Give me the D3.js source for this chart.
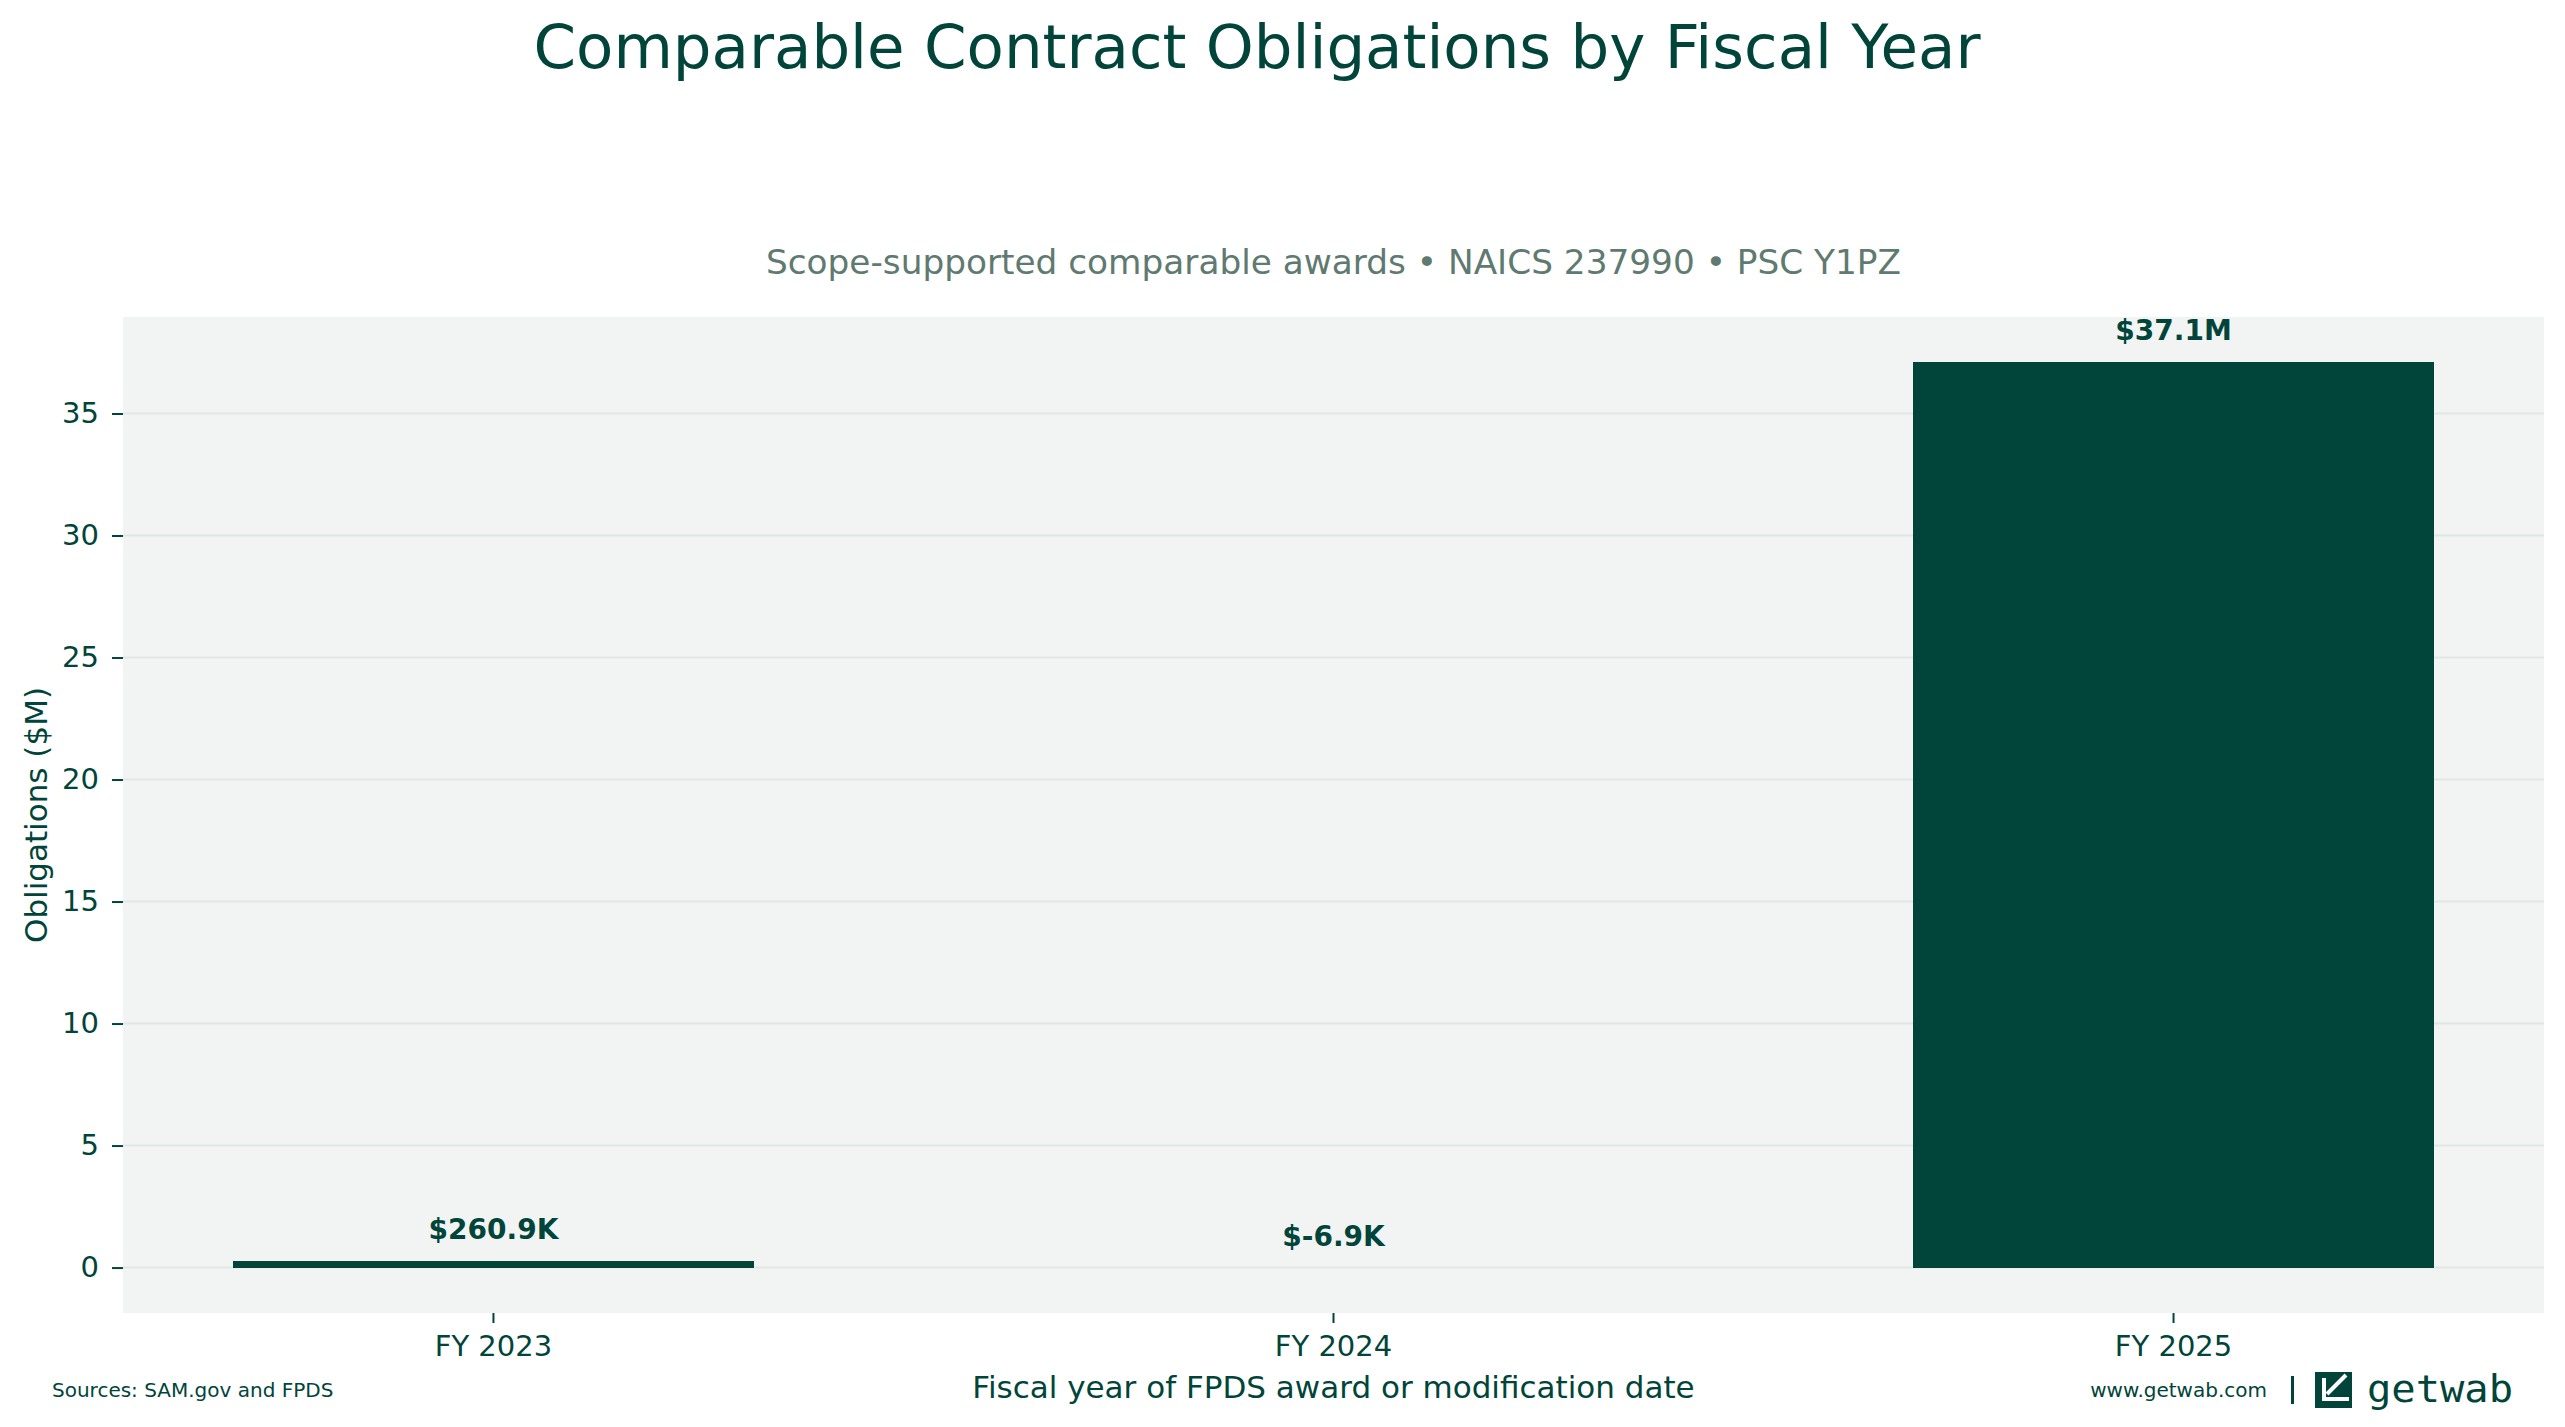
<!DOCTYPE html>
<html>
<head>
<meta charset="utf-8">
<script src="https://cdn.jsdelivr.net/npm/d3@7"></script>
<style>
  body { margin: 0; background: #fff; }
  svg { display: block; font-family: "DejaVu Sans", sans-serif; }
</style>
</head>
<body>
<div id="chart"></div>
<script>
// data ($M)
const categories = ["FY 2023", "FY 2024", "FY 2025"];
const values = [0.2609, -0.0069, 37.1];
const valueLabels = ["$260.9K", "$-6.9K", "$37.1M"];
const yTicks = [0, 5, 10, 15, 20, 25, 30, 35];

const W = 2565, H = 1427;
const margin = { top: 317, right: 21, bottom: 114, left: 123 };
const green = "#01453a";

const svg = d3.select("#chart").append("svg")
    .attr("width", W)
    .attr("height", H)
    .attr("viewBox", [0, 0, W, H]);

// matplotlib style 5% margins around the data
const lo = Math.min(0, d3.min(values)), hi = d3.max(values);
const pad = (hi - lo) * 0.05;

const y = d3.scaleLinear()
    .domain([lo - pad, hi + pad])
    .range([H - margin.bottom, margin.top]);

const x = d3.scaleBand()
    .domain(categories)
    .range([margin.left, W - margin.right])
    .paddingInner(0.38)
    .paddingOuter(0.131);

// plot background
svg.append("rect")
    .attr("x", margin.left)
    .attr("y", margin.top)
    .attr("width", W - margin.left - margin.right)
    .attr("height", H - margin.top - margin.bottom)
    .attr("fill", "#f2f4f3");

// grid
svg.append("g")
    .selectAll("line")
    .data(yTicks)
    .join("line")
    .attr("x1", margin.left)
    .attr("x2", W - margin.right)
    .attr("y1", d => y(d))
    .attr("y2", d => y(d))
    .attr("stroke", "#e0e6e3")
    .attr("stroke-width", 2);

// bars
svg.append("g")
    .attr("shape-rendering", "crispEdges")
    .selectAll("rect")
    .data(values)
    .join("rect")
    .attr("x", (d, i) => x(categories[i]))
    .attr("width", x.bandwidth())
    .attr("y", d => y(Math.max(d, 0)))
    .attr("height", d => Math.abs(y(d) - y(0)))
    .attr("fill", green);

// value labels
svg.append("g")
    .selectAll("text")
    .data(values)
    .join("text")
    .attr("x", (d, i) => x(categories[i]) + x.bandwidth() / 2)
    .attr("y", d => y(Math.max(d, 0)) - 22)
    .attr("text-anchor", "middle")
    .attr("font-weight", "bold")
    .attr("font-size", 28)
    .attr("fill", green)
    .text((d, i) => valueLabels[i]);

// axes
const yAxis = svg.append("g")
    .attr("transform", `translate(${margin.left},0)`)
    .call(d3.axisLeft(y).tickValues(yTicks).tickSize(11).tickPadding(13));

const xAxis = svg.append("g")
    .attr("transform", `translate(0,${H - margin.bottom})`)
    .call(d3.axisBottom(x).tickSize(10).tickPadding(12));

[yAxis, xAxis].forEach(g => {
    g.select(".domain").remove();
    g.selectAll(".tick line").attr("stroke", green).attr("stroke-width", 2);
    g.selectAll(".tick text")
        .attr("fill", green)
        .attr("font-size", 29)
        .attr("font-family", "DejaVu Sans");
});

// titles
svg.append("text")
    .attr("x", 1257)
    .attr("y", 68)
    .attr("text-anchor", "middle")
    .attr("font-size", 61)
    .attr("fill", green)
    .text("Comparable Contract Obligations by Fiscal Year");

svg.append("text")
    .attr("x", (margin.left + W - margin.right) / 2)
    .attr("y", 274)
    .attr("text-anchor", "middle")
    .attr("font-size", 34.3)
    .attr("fill", "#5f7a70")
    .text("Scope-supported comparable awards \u2022 NAICS 237990 \u2022 PSC Y1PZ");

svg.append("text")
    .attr("transform", `translate(47,${(margin.top + H - margin.bottom) / 2}) rotate(-90)`)
    .attr("text-anchor", "middle")
    .attr("font-size", 31)
    .attr("fill", green)
    .text("Obligations ($M)");

svg.append("text")
    .attr("x", (margin.left + W - margin.right) / 2)
    .attr("y", 1398)
    .attr("text-anchor", "middle")
    .attr("font-size", 31)
    .attr("fill", green)
    .text("Fiscal year of FPDS award or modification date");

// footer
svg.append("text")
    .attr("x", 52)
    .attr("y", 1397)
    .attr("font-size", 20)
    .attr("fill", green)
    .text("Sources: SAM.gov and FPDS");

svg.append("text")
    .attr("x", 2267)
    .attr("y", 1397)
    .attr("text-anchor", "end")
    .attr("font-size", 20)
    .attr("fill", green)
    .text("www.getwab.com");

svg.append("rect")
    .attr("x", 2291).attr("y", 1376)
    .attr("width", 3).attr("height", 28)
    .attr("fill", green);

// logo mark
const logo = svg.append("g").attr("transform", "translate(2315,1372)");
logo.append("rect").attr("width", 37).attr("height", 36).attr("fill", green);
logo.append("path")
    .attr("d", "M31,3 L12,22 M9,6 V27 H34")
    .attr("fill", "none")
    .attr("stroke", "#fff")
    .attr("stroke-width", 4);

svg.append("text")
    .attr("x", 2367)
    .attr("y", 1402)
    .attr("font-size", 37)
    .attr("font-family", "DejaVu Sans Mono")
    .attr("textLength", 146)
    .attr("lengthAdjust", "spacingAndGlyphs")
    .attr("fill", green)
    .text("getwab");
</script>
</body>
</html>
